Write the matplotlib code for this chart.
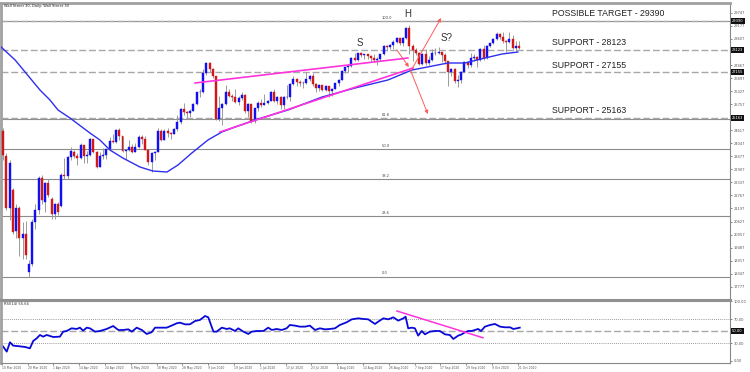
import matplotlib
matplotlib.use("Agg")
import matplotlib.pyplot as plt
import matplotlib.transforms as mtransforms

# daily candles, first visible bar at index 0, last one (21 Oct 2020) at 160
opens = [24600, 23500, 21200, 22000, 20200, 21200, 19900, 20100, 18400, 18750,
         20600, 21150, 22550, 21500, 22300, 21600, 20950, 21400, 21300, 22680,
         22600, 23434, 23650, 23500, 23390, 23950, 23505, 23538, 24242, 23650,
         23019, 23475, 23516, 23776, 24134, 24102, 24634, 24346, 23724, 23750,
         23883, 23665, 23875, 24331, 24222, 23765, 23248, 23625, 23685, 24597,
         24207, 24576, 24474, 24465, 24650, 24995, 25548, 25401, 25383, 25475,
         25742, 26270, 26282, 27111, 27572, 27272, 26990, 25128, 25606, 25763,
         26290, 26120, 26080, 25871, 26025, 26156, 25445, 25746, 25016, 25595,
         25813, 25735, 25827, 25900, 26287, 25890, 26067, 25706, 26075, 26086,
         26643, 26870, 26735, 26672, 26680, 26840, 27005, 26652, 26470, 26584,
         26379, 26540, 26313, 26428, 26664, 26828, 27201, 27387, 27433, 27791,
         27686, 27977, 27897, 27931, 27844, 27778, 27692, 27739, 27930, 28308,
         28249, 28332, 28492, 28654, 28430, 28646, 29100, 28292, 28133, 28000,
         27501, 27940, 27535, 27666, 27993, 27995, 28032, 27902, 27657, 27148,
         27289, 26763, 26815, 27174, 27584, 27452, 27782, 27817, 27683, 28149,
         27773, 28303, 28426, 28587, 28838, 28680, 28514, 28494, 28606, 28195,
         28309]
highs = [24700, 23600, 23300, 22100, 21400, 21300, 20600, 20650, 18950, 20750,
         21400, 22600, 22650, 22350, 22500, 21700, 21450, 21500, 22750, 23400,
         23500, 23900, 23750, 23600, 24050, 23950, 23700, 24280, 24250, 23700,
         23650, 23850, 23800, 24300, 24450, 24650, 24700, 24350, 23800, 24200,
         24000, 24050, 24400, 24400, 24350, 23800, 23650, 23700, 24700, 24650,
         24650, 24700, 24550, 24700, 25300, 25600, 25800, 25450, 25550, 25800,
         26300, 26400, 27300, 27600, 27580, 27350, 27000, 26100, 25800, 26600,
         26400, 26200, 26400, 26100, 26300, 26200, 25800, 25750, 25600, 25900,
         26000, 26200, 25950, 26350, 26400, 26100, 26100, 26100, 26600, 26700,
         27000, 26900, 26800, 26750, 27150, 27050, 27100, 26700, 26650, 26600,
         26600, 26550, 26450, 26700, 26850, 27250, 27400, 27500, 27800, 28000,
         28000, 28050, 27950, 27950, 27900, 27950, 27800, 27950, 28350, 28350,
         28400, 28550, 28700, 28650, 28670, 29150, 29199, 28400, 28200, 28050,
         28000, 28150, 27850, 28150, 28200, 28250, 28050, 28000, 27650, 27350,
         27350, 27050, 27200, 27650, 27650, 28000, 27950, 27850, 28200, 28350,
         28350, 28450, 28650, 28900, 28850, 28900, 28550, 28900, 28800, 28500,
         28500]
lows = [23300, 21150, 20700, 20100, 19900, 19100, 19000, 19000, 18213, 18700,
        20300, 20950, 21400, 21050, 21700, 20750, 20750, 20900, 21250, 22500,
        22500, 23300, 23400, 23100, 23350, 23200, 23200, 23500, 23600, 22950,
        23000, 23350, 23350, 23750, 24050, 24050, 24200, 23650, 23350, 23700,
        23600, 23650, 23850, 24000, 23750, 23100, 22800, 23300, 23650, 24150,
        24200, 24300, 24250, 24450, 24600, 24900, 25300, 25100, 25200, 25450,
        25700, 26050, 26250, 27050, 27150, 26900, 25050, 25000, 24850, 25700,
        26050, 25900, 25800, 25700, 25950, 25350, 25200, 24950, 24950, 25450,
        25650, 25700, 25750, 25880, 25850, 25750, 25550, 25550, 26000, 25900,
        26600, 26550, 26550, 26450, 26650, 26750, 26550, 26300, 26350, 26350,
        26350, 26050, 26100, 26400, 26550, 26800, 27100, 27150, 27400, 27650,
        27650, 27800, 27750, 27750, 27600, 27600, 27450, 27650, 27900, 28100,
        28150, 28150, 28450, 28350, 28300, 28600, 27950, 27664, 27900, 27450,
        27450, 27450, 27450, 27650, 27900, 27950, 27600, 27500, 26550, 27000,
        26700, 26500, 26700, 27150, 27350, 27400, 27650, 27400, 27650, 27700,
        27750, 28250, 28400, 28550, 28600, 28450, 28050, 28450, 28150, 28100,
        28150]
closes = [23553, 21200, 23185, 20189, 21237, 19899, 20087, 19174, 18750, 20600,
          21150, 22550, 21550, 22300, 21800, 20950, 21400, 21050, 22680, 22600,
          23434, 23720, 23500, 23390, 23950, 23505, 23538, 24242, 23650, 23019,
          23475, 23516, 23776, 24134, 24102, 24634, 24346, 23724, 23750, 23883,
          23665, 23875, 24331, 24222, 23765, 23248, 23625, 23685, 24597, 24207,
          24576, 24474, 24465, 24650, 24995, 25548, 25401, 25383, 25475, 25742,
          26270, 26282, 27111, 27572, 27272, 26990, 25128, 25606, 25763, 26290,
          26120, 26080, 25871, 26025, 26156, 25445, 25746, 25016, 25595, 25813,
          25735, 25827, 25900, 26287, 25890, 26067, 25706, 26075, 26086, 26643,
          26870, 26735, 26672, 26680, 26840, 27005, 26652, 26470, 26584, 26379,
          26540, 26313, 26428, 26664, 26828, 27201, 27387, 27433, 27791, 27686,
          27977, 27897, 27931, 27844, 27778, 27692, 27739, 27930, 28308, 28249,
          28332, 28492, 28654, 28430, 28646, 29100, 28292, 28133, 28000, 27501,
          27940, 27535, 27666, 27993, 27995, 28032, 27902, 27657, 27148, 27289,
          26763, 26815, 27174, 27584, 27452, 27782, 27817, 27683, 28149, 27773,
          28303, 28426, 28587, 28838, 28680, 28514, 28494, 28606, 28195, 28309,
          28211]

# moving average (bar index, price)
ma_idx = [-1.0, 3.7, 11.4, 14.5, 17.0, 20.7, 26.9, 30.0, 33.1, 37.1, 42.4, 46.4,
          50.8, 54.2, 58.5, 63.5, 67.8, 71.9, 78.1, 88.3, 98.9, 109.1, 119.3,
          126.8, 137.9, 143.2, 149.4, 154.7, 159.6]
ma_val = [28298, 27686, 26375, 25938, 25501, 25151, 24496, 24190, 23753, 23403,
          23010, 22835, 22791, 23097, 23622, 24190, 24539, 24758, 25064, 25501,
          26069, 26462, 26812, 27249, 27555, 27555, 27773, 27948, 28035]

# RSI(14) (bar index, value)
rsi_idx = [-1.0, 0.0, 1.1, 2.1, 3.1, 5.2, 6.8, 8.3, 9.3, 10.4, 11.4, 12.4, 13.5,
           15.5, 17.6, 18.6, 19.7, 21.2, 22.8, 23.8, 24.8, 25.9, 26.9, 28.5,
           30.0, 32.1, 34.1, 35.7, 37.2, 38.8, 39.9, 41.4, 43.0, 44.5, 46.0,
           47.1, 48.6, 50.7, 52.2, 53.8, 54.8, 56.4, 57.9, 59.5, 61.0, 62.6,
           63.6, 65.2, 66.2, 67.8, 69.3, 70.3, 71.9, 72.9, 74.5, 76.0, 77.1,
           78.6, 80.7, 82.2, 83.3, 84.8, 86.4, 87.9, 88.9, 90.5, 92.0, 93.6,
           95.1, 96.7, 98.2, 99.8, 101.3, 102.9, 104.4, 106.5, 108.1, 110.1,
           111.7, 113.2, 115.3, 116.3, 117.9, 119.4, 121.0, 122.5, 124.1, 124.8,
           125.6, 126.7, 127.7, 128.7, 129.8, 130.8, 132.3, 133.9, 135.4, 137.0,
           138.5, 139.6, 141.1, 142.2, 143.2, 144.2, 145.3, 146.3, 147.3, 148.2,
           149.4, 151.0, 152.5, 154.1, 155.6, 157.2, 158.2, 159.3, 160.2]
rsi_val = [28.1, 24.1, 15.7, 31.4, 25.8, 24.6, 23.5, 21.3, 33.6, 38.1, 43.7, 40.9,
           43.7, 40.3, 40.9, 49.3, 50.4, 54.9, 53.8, 56.0, 51.0, 56.0, 54.9,
           49.3, 50.4, 53.8, 58.8, 52.1, 52.1, 53.2, 49.3, 56.0, 52.1, 45.4,
           48.2, 56.0, 56.0, 56.0, 59.4, 63.3, 64.4, 61.6, 61.6, 67.2, 68.9,
           75.6, 73.4, 49.3, 49.3, 56.0, 53.8, 54.9, 50.4, 54.9, 49.3, 45.4,
           49.3, 50.4, 50.4, 56.0, 52.1, 53.8, 52.1, 54.9, 60.5, 59.4, 57.7,
           57.7, 59.4, 52.1, 54.9, 53.2, 53.8, 54.9, 60.5, 65.0, 70.0, 71.7,
           70.6, 70.0, 62.2, 66.1, 71.7, 70.0, 73.4, 67.8, 71.7, 74.5, 54.9,
           56.0, 54.9, 42.6, 50.4, 44.8, 49.3, 50.4, 50.4, 44.8, 43.7, 37.0,
           42.6, 44.8, 48.2, 50.4, 50.4, 52.1, 53.8, 50.4, 57.7, 60.5, 62.2,
           57.7, 56.6, 56.6, 53.8, 54.9, 56.0]

date_labels = ["10 Mar 2020", "20 Mar 2020", "1 Apr 2020", "14 Apr 2020",
               "24 Apr 2020", "6 May 2020", "18 May 2020", "28 May 2020",
               "9 Jun 2020", "19 Jun 2020", "1 Jul 2020", "13 Jul 2020",
               "23 Jul 2020", "4 Aug 2020", "14 Aug 2020", "26 Aug 2020",
               "7 Sep 2020", "17 Sep 2020", "29 Sep 2020", "9 Oct 2020",
               "21 Oct 2020"]
date_pos = [-0.4 + 8 * k for k in range(len(date_labels))]

price_ticks = [29747, 29177, 28607, 27467, 26897, 26327, 25757, 24617, 24047,
               23477, 22907, 22337, 21767, 21197, 20627, 20057, 19487, 18917,
               18347, 17777]
support_levels = [29390, 28123, 27155, 25163]
support_texts = ["POSSIBLE TARGET - 29390", "SUPPORT - 28123",
                 "SUPPORT - 27155", "SUPPORT - 25163"]
fib_low, fib_high = 18214, 29390
fib_ratios = [0.0, 23.6, 38.2, 50.0, 61.8, 100.0]
rsi_ticks = [100, 70, 30, 0]

BULL = "#1010f0"
BEAR = "#d01818"
WICK = "#9a9a9a"
GRID = "#8c8c8c"
DASH = "#a8a8a8"
PINK = "#ff33dd"
ARROW = "#ff5a5a"

W, H = 750, 372
fig = plt.figure(figsize=(W / 100, H / 100), dpi=100)
ax = fig.add_axes([1 / W, 1 - 298 / H, 729 / W, 295 / H])
rx = fig.add_axes([1 / W, 1 - 363 / H, 729 / W, 63 / H], sharex=ax)

xmin, xmax = -0.68, 225.4
ax.set_xlim(xmin, xmax)
ax.set_ylim(17285, 30177)
rx.set_ylim(-3.4, 102.5)

# fibonacci levels
for r in fib_ratios:
    lvl = fib_low + (fib_high - fib_low) * r / 100
    ax.axhline(lvl, color=GRID, lw=0.8, zorder=1)
    ax.text(117.3, lvl + 60, "%.1f" % r, fontsize=2.6, color="#444444",
            ha="left", va="bottom")

# support / target lines
for lvl, txt in zip(support_levels, support_texts):
    ax.axhline(lvl, color=DASH, lw=1.0, dashes=(5, 2), zorder=1.5)
    ax.text(170.2, lvl + 310, txt, fontsize=6.3, color="#222222",
            ha="left", va="center", family="Liberation Sans")

# candles
idx = list(range(len(closes)))
for i in idx:
    o, h, l, c = opens[i], highs[i], lows[i], closes[i]
    ax.vlines(i, l, h, color=WICK, lw=0.7, zorder=2)
    col = BULL if c >= o else BEAR
    ax.bar(i, c - o, bottom=o, width=0.62, color=col, edgecolor=col,
           lw=0.3, zorder=3)

ax.plot(ma_idx, ma_val, color="#2e2ef0", lw=1.0, zorder=4)

# trend lines
ax.plot([67.2, 127.1], [24539, 27336], color=PINK, lw=1.2, zorder=4.5)
ax.plot([59.5, 125.5], [26681, 27773], color=PINK, lw=1.2, zorder=4.5)

# arrows
for (x0, y0), (x1, y1) in [((122.1, 28123), (125.8, 27380)),
                           ((126.4, 27205), (135.8, 29521)),
                           ((126.4, 27205), (131.7, 25326))]:
    ax.annotate("", xy=(x1, y1), xytext=(x0, y0),
                arrowprops=dict(arrowstyle="-|>", color=ARROW, lw=0.7,
                                mutation_scale=5, shrinkA=0, shrinkB=0),
                zorder=5)

for txt, x, y in [("S", 110.6, 28429), ("H", 125.5, 29696), ("S?", 137.6, 28647)]:
    ax.text(x, y, txt, fontsize=7, color="#333333", ha="center", va="center",
            family="Liberation Sans")

# price axis on the right
ax.yaxis.tick_right()
ax.set_yticks(price_ticks)
ax.set_yticklabels([str(t) for t in price_ticks])
ax.tick_params(axis="y", labelsize=2.6, colors="#555555", length=1.5, width=0.5, pad=1)
ax.tick_params(axis="x", bottom=False, labelbottom=False)
trans = mtransforms.blended_transform_factory(ax.transAxes, ax.transData)
for lvl in support_levels:
    ax.text(1.0025, lvl, str(lvl), transform=trans, fontsize=2.6, color="white",
            ha="left", va="center",
            bbox=dict(boxstyle="square,pad=0.3", fc="#111111", ec="none"))

for s in ["top", "left"]:
    ax.spines[s].set_color("#a0a0a0")
    ax.spines[s].set_linewidth(2)
ax.spines["right"].set_color("#888888")
ax.spines["right"].set_linewidth(0.8)
ax.spines["bottom"].set_visible(False)

ax.text(0.004, 0.995, "Wall Street 30, Daily: Wall Street 30", transform=ax.transAxes,
        fontsize=2.6, color="#222222", ha="left", va="top")

# RSI panel
rx.axhline(70, color="#777777", lw=0.6, ls=(0, (1, 1.5)))
rx.axhline(30, color="#777777", lw=0.6, ls=(0, (1, 1.5)))
rx.axhline(50, color=DASH, lw=1.0, dashes=(5, 2))
rx.plot(rsi_idx, rsi_val, color="#0a0ad8", lw=1.3)
rx.plot([122.1, 148.8], [84, 39], color=PINK, lw=1.1)

rx.yaxis.tick_right()
rx.set_yticks(rsi_ticks)
rx.set_yticklabels(["%.2f" % t for t in rsi_ticks])
rx.tick_params(axis="y", labelsize=2.6, colors="#555555", length=1.5, width=0.5, pad=1)
rtrans = mtransforms.blended_transform_factory(rx.transAxes, rx.transData)
rx.text(1.0025, 50, "50.00", transform=rtrans, fontsize=2.6, color="white",
        ha="left", va="center",
        bbox=dict(boxstyle="square,pad=0.3", fc="#111111", ec="none"))
rx.text(0.004, 0.97, "RSI(14) 55.64", transform=rx.transAxes, fontsize=2.6,
        color="#222222", ha="left", va="top")

rx.set_xticks(date_pos)
rx.set_xticklabels(date_labels)
for lab in rx.get_xticklabels():
    lab.set_horizontalalignment("left")
rx.tick_params(axis="x", labelsize=2.2, colors="#555555", length=1.5, width=0.5, pad=1)
rx.spines["top"].set_color("#909090")
rx.spines["top"].set_linewidth(2.2)
rx.spines["left"].set_color("#a0a0a0")
rx.spines["left"].set_linewidth(2)
rx.spines["right"].set_color("#888888")
rx.spines["right"].set_linewidth(0.8)
rx.spines["bottom"].set_color("#888888")
rx.spines["bottom"].set_linewidth(0.8)

fig.savefig("out.png", dpi=100, facecolor="white")
